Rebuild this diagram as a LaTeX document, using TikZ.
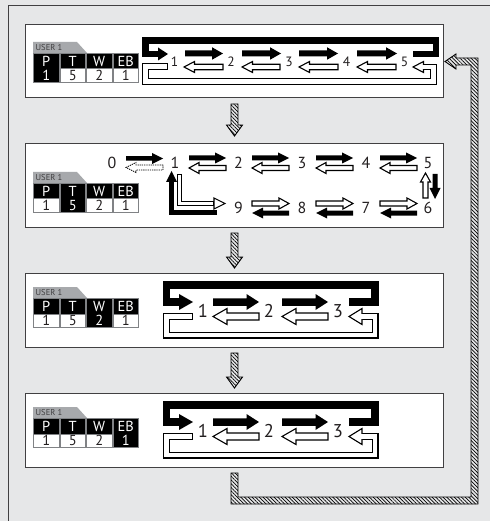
\documentclass[tikz,border=0pt]{standalone}
\usepackage{fontspec}
\setmainfont{PT Sans}
\usetikzlibrary{patterns.meta}
\definecolor{bg}{RGB}{230,231,232}
\definecolor{framec}{RGB}{65,64,66}
\definecolor{tabgray}{RGB}{167,169,172}
\definecolor{cellgray}{RGB}{128,130,133}
\definecolor{ink}{RGB}{35,31,32}
% horizontal arrow: #1 style, #2 x tail, #3 x tip, #4 y, #5 shaft, #6 head width, #7 signed head length
\newcommand\harr[7]{\path[#1] (#2,{#4-(#5)/2}) -- ({#3-(#7)},{#4-(#5)/2}) -- ({#3-(#7)},{#4-(#6)/2}) -- (#3,#4) -- ({#3-(#7)},{#4+(#6)/2}) -- ({#3-(#7)},{#4+(#5)/2}) -- (#2,{#4+(#5)/2}) -- cycle;}
% vertical arrow: #1 style, #2 y tail, #3 y tip, #4 x, #5 shaft, #6 head width, #7 signed head length
\newcommand\varr[7]{\path[#1] ({#4-(#5)/2},#2) -- ({#4-(#5)/2},{#3-(#7)}) -- ({#4-(#6)/2},{#3-(#7)}) -- (#4,#3) -- ({#4+(#6)/2},{#3-(#7)}) -- ({#4+(#5)/2},{#3-(#7)}) -- ({#4+(#5)/2},#2) -- cycle;}
% user table: #1 y of tab top, #2 highlighted column, #3 name prefix
\newcommand\utable[3]{%
\begin{scope}[shift={(0,#1)}]
 \fill[tabgray] (33,0) -- (77,0) -- (87,11) -- (33,11) -- cycle;
 \node[tabtext] (#3tab) at (35.5,5.8) {USER 1};
 \fill[cellgray] (33,11) rectangle (139,41);
 \foreach \h/\v [count=\c] in {P/1,T/5,W/2,EB/1}{
   \pgfmathsetmacro\xl{33+26.5*(\c-1)}
   \pgfmathsetmacro\xr{\xl+26.5}
   \pgfmathsetmacro\xm{\xl+13.25}
   \ifnum\c=#2
     \fill[black] (\xl+1,12) rectangle (\xr-1,40);
     \node[hd] (#3h\c) at (\xm,19.3) {\h};
     \node[hd] (#3v\c) at (\xm,33.6) {\v};
   \else
     \fill[black] (\xl+1,12) rectangle (\xr-1,26.5);
     \fill[white] (\xl+1,27.5) rectangle (\xr-1,40);
     \node[hd] (#3h\c) at (\xm,19.3) {\h};
     \node[vl] (#3v\c) at (\xm,33.6) {\v};
   \fi
 }
\end{scope}}
% three-step loop of panels 3 and 4: #1 y shift, #2 name prefix
\newcommand\bigloop[2]{%
\begin{scope}[shift={(0,#1)}]
 \draw[line width=7.5pt] (349,302) -- (375,302) -- (375,285) -- (166.5,285) -- (166.5,302) -- (179.5,302);
 \fill (179,294) -- (193,302) -- (179,310) -- cycle;
 \harr{blk}{213}{259}{302}{7.5}{16}{12.5}
 \harr{blk}{282}{328}{302}{7.5}{16}{12.5}
 \harr{wht}{259}{213}{316.5}{7}{16}{-14}
 \harr{wht}{328}{282}{316.5}{7}{16}{-14}
 \draw[line width=7pt] (193,316.5) -- (166.5,316.5) -- (166.5,335) -- (375,335) -- (375,316.5) -- (362,316.5);
 \path[wht] (362,308.5) -- (349,316.5) -- (362,324.5) -- cycle;
 \draw[white,line width=4.6pt] (191.8,316.5) -- (166.5,316.5) -- (166.5,335) -- (375,335) -- (375,316.5) -- (360.8,316.5);
 \node[nC] (#2n1) at (203,311) {1};
 \node[nC] (#2n2) at (269,311) {2};
 \node[nC] (#2n3) at (338,311) {3};
\end{scope}}
\begin{document}
\begin{tikzpicture}[x=1pt,y=-1pt,
  blk/.style={fill=black},
  wht/.style={fill=white,draw=black,line width=1.1pt},
  dsh/.style={draw=black,line width=0.8pt,dash pattern=on 1.3pt off 0.9pt},
  hat/.style={draw=black,line width=0.9pt,pattern={Lines[angle=-45,distance=2.6pt,line width=0.7pt]}},
  panel/.style={draw=framec,fill=white,line width=1pt},
  nA/.style={inner sep=0pt,text=ink,font=\fontsize{13.5}{13.5}\selectfont},
  nB/.style={inner sep=0pt,text=ink,font=\fontsize{16}{16}\selectfont},
  nC/.style={inner sep=0pt,text=ink,font=\fontsize{18.5}{18.5}\selectfont},
  hd/.style={inner sep=0pt,text=white,font=\fontsize{14.5}{14.5}\selectfont},
  vl/.style={inner sep=0pt,text=ink,font=\fontsize{14.5}{14.5}\selectfont},
  tabtext/.style={inner sep=0pt,anchor=west,text=framec,font=\fontsize{8.5}{8.5}\selectfont},
]
\fill[bg] (0,0) rectangle (490,521);
\useasboundingbox (0,0) rectangle (490,521);
\draw[framec,line width=1pt] (8,521) -- (8,6) -- (490,6);
% panels
\path[panel] (25,25) rectangle (443,98);
\path[panel] (25,144) rectangle (443,227);
\path[panel] (25,273) rectangle (443,347);
\path[panel] (25,393) rectangle (443,467);
% tables
\utable{42}{1}{ta}
\utable{172}{2}{tb}
\utable{287}{3}{tc}
\utable{407}{4}{td}
% ---------- panel 1
\draw[line width=6.5pt] (413,54) -- (436,54) -- (436,40.5) -- (145.5,40.5) -- (145.5,54) -- (158.5,54);
\fill (158,47.5) -- (168,54) -- (158,60.5) -- cycle;
\harr{blk}{185}{223}{53.5}{6}{12.5}{11}
\harr{blk}{242}{281}{53.5}{6}{12.5}{11}
\harr{blk}{299}{338}{53.5}{6}{12.5}{11}
\harr{blk}{357}{397}{53.5}{6}{12.5}{11}
\harr{wht}{223}{184}{67}{5.5}{11}{-10.5}
\harr{wht}{280}{242}{67}{5.5}{11}{-10.5}
\harr{wht}{338}{299}{67}{5.5}{11}{-10.5}
\harr{wht}{396}{357}{67}{5.5}{11}{-10.5}
\draw[line width=6.5pt] (168,66.5) -- (145.5,66.5) -- (145.5,81.5) -- (433.5,81.5) -- (433.5,67) -- (423.5,67);
\path[wht] (423.5,61.5) -- (413,67) -- (423.5,72.5) -- cycle;
\draw[white,line width=4.2pt] (166.9,66.5) -- (145.5,66.5) -- (145.5,81.5) -- (433.5,81.5) -- (433.5,67) -- (422.3,67);
\node[nA] (a1) at (174.5,62) {1};
\node[nA] (a2) at (231,62) {2};
\node[nA] (a3) at (289,62) {3};
\node[nA] (a4) at (346.5,62) {4};
\node[nA] (a5) at (404.5,62) {5};
% ---------- panel 2
\node[nB] (b0) at (112,163) {0};
\node[nB] (b1) at (175,163) {1};
\node[nB] (b2) at (238.5,163) {2};
\node[nB] (b3) at (302,163) {3};
\node[nB] (b4) at (366,163) {4};
\node[nB] (b5) at (428,163) {5};
\node[nB] (b9) at (238.5,208) {9};
\node[nB] (b8) at (302,208) {8};
\node[nB] (b7) at (366,208) {7};
\node[nB] (b6) at (428,208) {6};
\harr{blk}{126}{163}{158.5}{4.5}{11}{11}
\harr{dsh}{163}{126}{167.5}{5}{10}{-10}
\foreach \s in {189,252,316,380}{
  \harr{blk}{\s}{\s+37}{158}{5}{11}{11}
  \harr{wht}{\s+37}{\s}{168}{5}{11}{-10}
}
\foreach \s in {252,316,380}{
  \harr{wht}{\s}{\s+37}{203.5}{5}{11}{10}
  \harr{blk}{\s+37}{\s}{213}{5}{11}{-11}
}
\varr{wht}{198}{173}{425.5}{5}{10}{-9}
\varr{blk}{174}{199}{435}{5}{11}{11}
\draw[line width=5pt] (217,212.5) -- (171.5,212.5) -- (171.5,181.5);
\fill (166,182) -- (171.5,171) -- (177,182) -- cycle;
\draw[line width=5.5pt] (179.5,174) -- (179.5,203.5) -- (214.5,203.5);
\path[wht] (214,198) -- (225,203.5) -- (214,209) -- cycle;
\draw[white,line width=3.3pt] (179.5,175.1) -- (179.5,203.5) -- (212.9,203.5);
% ---------- panels 3 and 4
\bigloop{0}{c}
\bigloop{120}{d}
% ---------- hatched flow arrows
\varr{hat}{104}{136}{234.5}{7}{16}{11}
\varr{hat}{233}{268}{234.5}{7}{16}{11}
\varr{hat}{353}{388}{234.5}{7}{16}{11}
\path[hat] (231,473) -- (231,504) -- (478,504) -- (478,58) -- (456,58) -- (456,54) -- (445,61.5) -- (456,69) -- (456,65) -- (471,65) -- (471,497) -- (238,497) -- (238,473) -- cycle;
\end{tikzpicture}
\end{document}
